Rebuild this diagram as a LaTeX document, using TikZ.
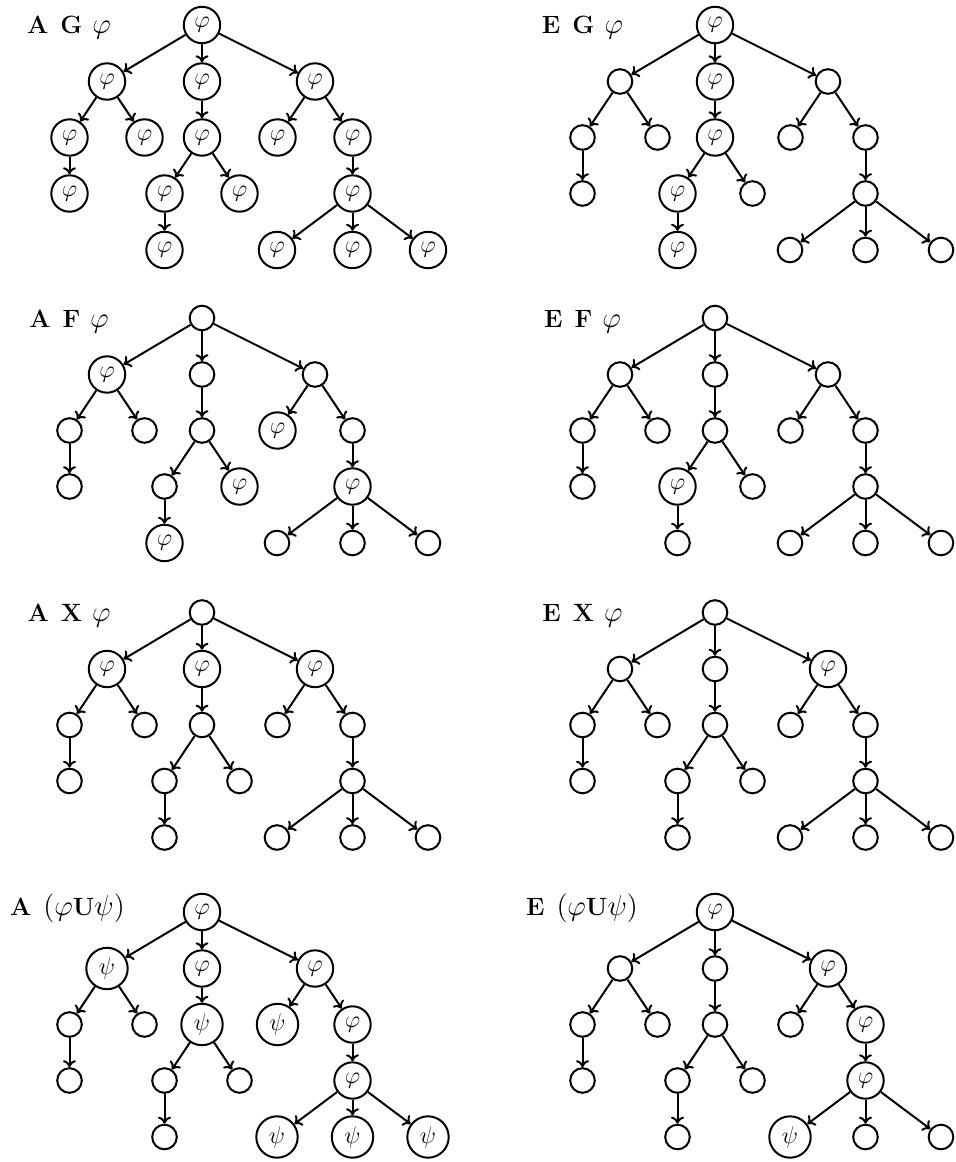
\documentclass[tikz,border=0pt]{standalone}
\usetikzlibrary{arrows.meta}

% relative positions of the 17 states of the computation tree (px, y down)
\expandafter\def\csname tp1\endcsname{0,0}
\expandafter\def\csname tp2\endcsname{-95,56.5}
\expandafter\def\csname tp3\endcsname{0,56.5}
\expandafter\def\csname tp4\endcsname{113,56.5}
\expandafter\def\csname tp5\endcsname{-132.5,112.5}
\expandafter\def\csname tp6\endcsname{-57.5,112.5}
\expandafter\def\csname tp7\endcsname{0,112.5}
\expandafter\def\csname tp8\endcsname{75.5,112.5}
\expandafter\def\csname tp9\endcsname{150.5,112.5}
\expandafter\def\csname tp10\endcsname{-132.5,168.5}
\expandafter\def\csname tp11\endcsname{-37.5,168.5}
\expandafter\def\csname tp12\endcsname{37.5,168.5}
\expandafter\def\csname tp13\endcsname{150.5,168.5}
\expandafter\def\csname tp14\endcsname{-37.5,225}
\expandafter\def\csname tp15\endcsname{75,225}
\expandafter\def\csname tp16\endcsname{150.5,225}
\expandafter\def\csname tp17\endcsname{226,225}

% contents of the three kinds of state
\def\txtemp{}
\def\txtphi{$\varphi$}
\def\txtpsi{$\psi$}

\newcommand\opf[1]{{\fontsize{12.5}{14}\selectfont\bfseries #1}}
\newcommand\mth[1]{{\fontsize{14.4}{17}\selectfont$#1$}}

\tikzset{
  state/.style={circle, draw, line width=1pt, inner sep=0pt,
                font=\fontsize{13}{15}\selectfont},
  emp/.style={state, minimum size=12.3pt},
  phi/.style={state, minimum size=18.2pt},
  psi/.style={state, minimum size=20.7pt},
  edge/.style={-{To[length=3.5pt,width=6.5pt]}, line width=1pt},
  formula/.style={anchor=base, inner sep=0pt}
}

% #1 prefix, #2/#3 root position, #4 kinds of the 17 states
\newcommand\ctltree[4]{%
  \begin{scope}[shift={(#2,#3)}]
    \foreach \k [count=\i] in {#4}{%
      \edef\tmp{\noexpand\node[\k] (#1\i) at (\csname tp\i\endcsname)
        {\expandafter\noexpand\csname txt\k\endcsname};}%
      \tmp
    }
    \foreach \a/\b in {1/2,1/3,1/4,2/5,2/6,3/7,4/8,4/9,5/10,7/11,7/12,
                       9/13,11/14,13/15,13/16,13/17}{%
      \draw[edge] (#1\a) -- (#1\b);
    }
  \end{scope}}

\begin{document}
\begin{tikzpicture}[x=0.5pt, y=-0.5pt]
  \useasboundingbox (0,0) rectangle (956,1162);

  % A G phi
  \ctltree{ag}{202}{25}{phi,phi,phi,phi,phi,phi,phi,phi,phi,phi,phi,phi,phi,phi,phi,phi,phi}
  \node[formula] (lag) at (69,33) {\opf{A}\hspace{6pt}\opf{G}\hspace{5pt}\mth{\varphi}};
  % E G phi
  \ctltree{eg}{715}{25}{phi,emp,phi,emp,emp,emp,phi,emp,emp,emp,phi,emp,emp,phi,emp,emp,emp}
  \node[formula] (leg) at (582.5,33) {\opf{E}\hspace{6pt}\opf{G}\hspace{5pt}\mth{\varphi}};

  % A F phi
  \ctltree{af}{202}{318}{emp,phi,emp,emp,emp,emp,emp,phi,emp,emp,emp,phi,phi,phi,emp,emp,emp}
  \node[formula] (laf) at (69,327) {\opf{A}\hspace{6pt}\opf{F}\hspace{5pt}\mth{\varphi}};
  % E F phi
  \ctltree{ef}{715}{318}{emp,emp,emp,emp,emp,emp,emp,emp,emp,emp,phi,emp,emp,emp,emp,emp,emp}
  \node[formula] (lef) at (582.5,327) {\opf{E}\hspace{6pt}\opf{F}\hspace{5pt}\mth{\varphi}};

  % A X phi
  \ctltree{ax}{202}{612.5}{emp,phi,phi,phi,emp,emp,emp,emp,emp,emp,emp,emp,emp,emp,emp,emp,emp}
  \node[formula] (lax) at (69,621) {\opf{A}\hspace{6pt}\opf{X}\hspace{5pt}\mth{\varphi}};
  % E X phi
  \ctltree{ex}{715}{612.5}{emp,emp,emp,phi,emp,emp,emp,emp,emp,emp,emp,emp,emp,emp,emp,emp,emp}
  \node[formula] (lex) at (582.5,621) {\opf{E}\hspace{6pt}\opf{X}\hspace{5pt}\mth{\varphi}};

  % A (phi U psi)
  \ctltree{au}{202}{912}{phi,psi,phi,phi,emp,emp,psi,psi,phi,emp,emp,emp,phi,emp,psi,psi,psi}
  \node[formula] (lau) at (67.5,915) {\opf{A}\hspace{6pt}\mth{(\varphi}\opf{U}\mth{\psi)}};
  % E (phi U psi)
  \ctltree{eu}{715}{912}{phi,emp,emp,phi,emp,emp,emp,emp,phi,emp,emp,emp,phi,emp,psi,emp,emp}
  \node[formula] (leu) at (582,915) {\opf{E}\hspace{6pt}\mth{(\varphi}\opf{U}\mth{\psi)}};
\end{tikzpicture}
\end{document}
